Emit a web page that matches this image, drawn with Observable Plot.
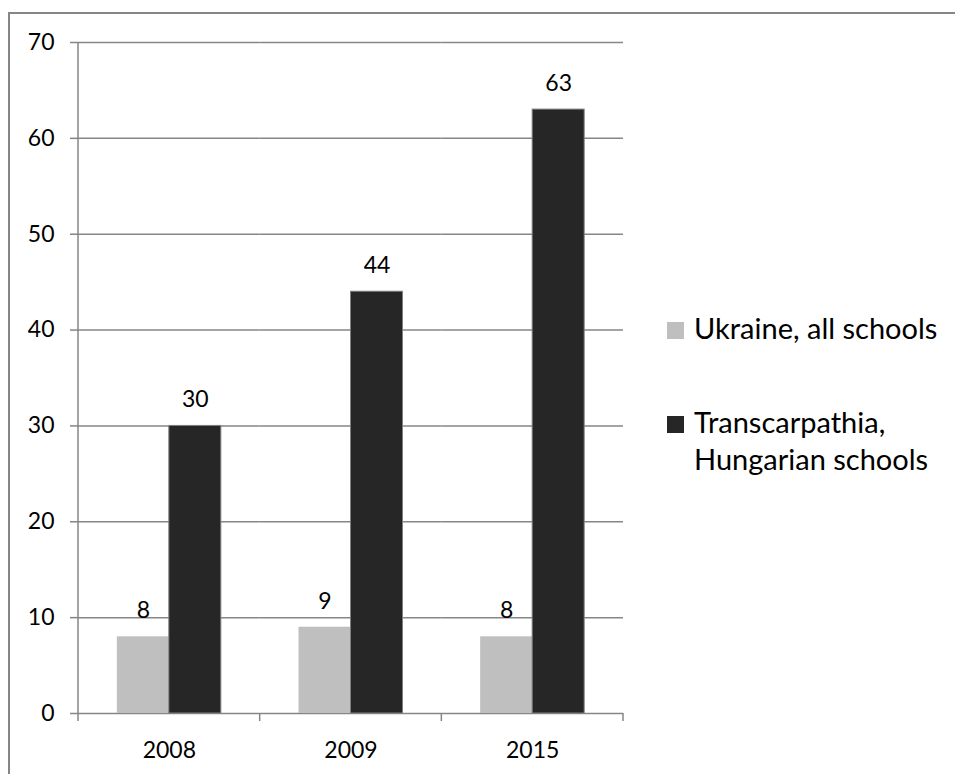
<!DOCTYPE html>
<html>
<head>
<meta charset="utf-8">
<script src="https://cdn.jsdelivr.net/npm/d3@7"></script>
<script src="https://cdn.jsdelivr.net/npm/@observablehq/plot@0.6"></script>
<style>
  html, body { margin: 0; padding: 0; background: #fff; overflow: hidden; }
  #wrap { position: relative; width: 955px; height: 774px; overflow: hidden; font-family: Lato, sans-serif; }
  #border { position: absolute; left: 8px; top: 12px; width: 1100px; height: 900px; border: 2px solid #868686; box-sizing: border-box; }
  #chart { position: absolute; left: 0; top: 0; }
  .sw { position: absolute; width: 17px; height: 17px; }
  .lab { position: absolute; font-size: 29px; line-height: 37px; width: 258px; color: #000; }
</style>
</head>
<body>
<div id="wrap">
  <div id="border"></div>
  <div id="chart"></div>
</div>
<script>
const years = ["2008", "2009", "2015"];
const series = ["Ukraine, all schools", "Transcarpathia, Hungarian schools"];
const ukraine = [8, 9, 8];
const transcarpathia = [30, 44, 63];
const yTicks = [0, 10, 20, 30, 40, 50, 60, 70];
const colors = ["#bfbfbf", "#262626"];

const rows = years.flatMap((yr, i) => [
  {year: yr, series: series[0], value: ukraine[i]},
  {year: yr, series: series[1], value: transcarpathia[i]}
]);

const gridColor = "#868686";

const plot = Plot.plot({
  width: 955,
  height: 774,
  marginLeft: 78,
  marginRight: 332,
  marginTop: 42,
  marginBottom: 61,
  style: {fontFamily: "Lato, sans-serif", fontSize: "23px", color: "black", background: "transparent"},
  fx: {domain: years, padding: 0, round: false, label: null},
  x: {domain: series, paddingInner: 0, paddingOuter: 0.747, round: false, axis: null},
  y: {domain: [0, 70], label: null},
  color: {domain: series, range: colors},
  marks: [
    Plot.ruleY(yTicks, {stroke: gridColor, strokeWidth: 1.5}),
    Plot.barY(rows, {filter: d => d.series === series[0], fx: "year", x: "series", y: "value", fill: "series"}),
    Plot.barY(rows, {filter: d => d.series === series[1], fx: "year", x: "series", y: "value", fill: "series", stroke: "#7f7f7f", strokeWidth: 1}),
    Plot.text(rows, {fx: "year", x: "series", y: "value", text: d => String(d.value), dy: -26, fill: "black", fontSize: 23}),
    Plot.axisY(yTicks, {tickSize: 8, tickPadding: 16, stroke: gridColor, strokeWidth: 1.5, fill: "black", label: null, fontSize: 23}),
    Plot.axisFx({anchor: "bottom", tickSize: 0, tickPadding: 28, label: null, fill: "black", fontSize: 23})
  ]
});

document.getElementById("chart").appendChild(plot);

// Axis line and category boundary ticks, placed with the plot's own scales
const fx = plot.scale("fx");
const y = plot.scale("y");
const svg = d3.select(plot);
const step = fx.bandwidth !== undefined ? fx.bandwidth : (fx.range[1] - fx.range[0]) / years.length;
const x0 = fx.apply(years[0]);
const bounds = years.map(yr => fx.apply(yr)).concat([fx.apply(years[years.length - 1]) + step]);
const g = svg.append("g").attr("stroke", gridColor).attr("stroke-width", 1.5);
g.append("line")
  .attr("x1", x0).attr("x2", x0)
  .attr("y1", y.apply(yTicks[yTicks.length - 1])).attr("y2", y.apply(0));
g.selectAll("line.b").data(bounds).join("line")
  .attr("class", "b")
  .attr("x1", d => d).attr("x2", d => d)
  .attr("y1", y.apply(0)).attr("y2", y.apply(0) + 8);

// Legend
const wrap = document.getElementById("wrap");
const legendTops = [322, 416];
series.forEach((s, i) => {
  const sw = document.createElement("div");
  sw.className = "sw";
  sw.style.left = "667px";
  sw.style.top = legendTops[i] + "px";
  sw.style.background = colors[i];
  wrap.appendChild(sw);
  const lab = document.createElement("div");
  lab.className = "lab";
  lab.style.left = "694px";
  lab.style.top = (legendTops[i] - 13) + "px";
  lab.textContent = s;
  wrap.appendChild(lab);
});
</script>
</body>
</html>
